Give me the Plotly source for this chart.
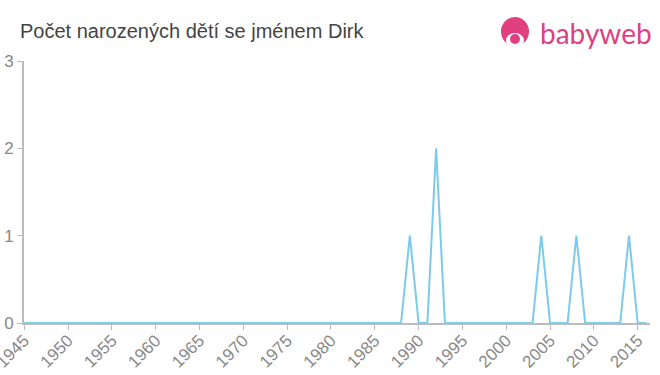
import plotly.graph_objects as go

years = list(range(1945, 2017))
peaks = {1989: 1, 1992: 2, 2004: 1, 2008: 1, 2014: 1}
counts = [0] * len(years)
for y, v in peaks.items():
    counts[years.index(y)] = v

title_text = "Počet narozených dětí se jménem Dirk"
x_ticks = list(range(1945, 2016, 5))
y_ticks = [0, 1, 2, 3]

fig = go.Figure()
fig.add_trace(go.Scatter(x=years, y=counts, mode="lines",
                         line=dict(color="#7dcbea", width=2), hoverinfo="x+y"))

axis_color = "#bbbbbb"
tick_font = dict(size=17, color="#888888", family="Liberation Sans, Arial, sans-serif")
fig.update_layout(
    width=660, height=375,
    margin=dict(l=24, r=10, t=61, b=52),
    paper_bgcolor="white", plot_bgcolor="white",
    showlegend=False,
    font=dict(family="Liberation Sans, Arial, sans-serif", color="#888888", size=17),
    xaxis=dict(range=[1944.98, 2016.4], tickvals=x_ticks, ticktext=[str(v) for v in x_ticks],
               tickangle=-45, showgrid=False, zeroline=False, showline=True, automargin=False,
               linecolor=axis_color, linewidth=2, ticks="outside", tickcolor=axis_color,
               ticklen=5, tickwidth=1, tickfont=tick_font, ticklabeloverflow="allow",
               ticklabelstandoff=-6),
    yaxis=dict(range=[0, 3], tickvals=y_ticks, showgrid=False, zeroline=False, automargin=False,
               showline=True, linecolor=axis_color, linewidth=2, ticks="outside",
               tickcolor=axis_color, ticklen=5, tickwidth=1, tickfont=tick_font),
)

fig.add_annotation(text=title_text, xref="paper", yref="paper",
                   x=(18 - 24) / 626, y=1 + (61 - 31) / 262, xanchor="left", yanchor="middle",
                   showarrow=False, font=dict(size=20, color="#444444"))

# logo
pink = "#e0407f"
fig.add_shape(type="circle", xref="paper", yref="paper", layer="above",
              x0=(501 - 24) / 626, x1=(529 - 24) / 626,
              y0=1 + (61 - 46) / 262, y1=1 + (61 - 17) / 262,
              fillcolor=pink, line=dict(width=0))
fig.add_shape(type="circle", xref="paper", yref="paper", layer="above",
              x0=(506 - 24) / 626, x1=(524 - 24) / 626,
              y0=1 + (61 - 48) / 262, y1=1 + (61 - 33) / 262,
              fillcolor="white", line=dict(width=0))
fig.add_shape(type="circle", xref="paper", yref="paper", layer="above",
              x0=(510 - 24) / 626, x1=(520 - 24) / 626,
              y0=1 + (61 - 44) / 262, y1=1 + (61 - 34) / 262,
              fillcolor=pink, line=dict(width=0))
fig.add_annotation(text="babyweb", xref="paper", yref="paper",
                   x=(538 - 24) / 626, y=1 + (61 - 33) / 262, xanchor="left", yanchor="middle",
                   showarrow=False, font=dict(size=28, color=pink,
                                              family="Lato, Liberation Sans, sans-serif"))

fig.write_html("out.html")
